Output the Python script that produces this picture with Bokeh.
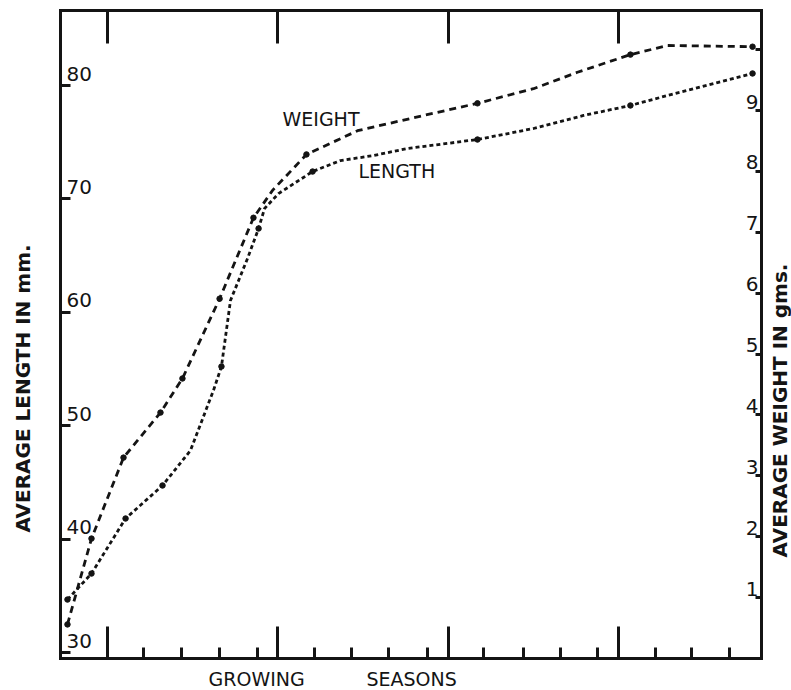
import math
from bokeh.plotting import figure
from bokeh.models import LinearAxis, Range1d, FixedTicker, Label
from bokeh.core.properties import value
from bokeh.embed import file_html
from bokeh.resources import INLINE

# ---------------- data ----------------
season_ticks = [1, 2, 3, 4]
season_minor_ticks = [1.21, 1.435, 1.658, 1.881,
                      2.216, 2.433, 2.65, 2.879,
                      3.208, 3.443, 3.66, 3.877,
                      4.218, 4.429, 4.652]

length_ticks = [30, 40, 50, 60, 70, 80]
length_tick_labels = ["30", "40", "50", "60", "70", "80"]
weight_ticks = [1, 2, 3, 4, 5, 6, 7, 8, 9, 10]
weight_tick_labels = ["1", "2", "3", "4", "5", "6", "7", "8", "9"]

# average weight (gms) over growing seasons
weight_x = [0.765, 0.906, 1.094, 1.311, 1.440, 1.658, 1.857, 1.969, 2.168, 2.468,
            2.855, 3.172, 3.501, 3.759, 4.070, 4.288, 4.787]
weight_gms = [0.56, 1.97, 3.30, 4.04, 4.60, 5.91, 7.24, 7.69, 8.28, 8.67,
              8.92, 9.12, 9.36, 9.63, 9.92, 10.07, 10.05]
weight_sampled = [1, 1, 1, 1, 1, 1, 1, 0, 1, 0, 0, 1, 0, 0, 1, 0, 1]

# average length (mm) over growing seasons
length_x = [0.765, 0.906, 1.106, 1.323, 1.487, 1.622, 1.669, 1.722, 1.822, 1.887,
            1.922, 2.004, 2.204, 2.368, 2.562, 2.761, 3.172, 3.501, 3.795, 4.070,
            4.288, 4.581, 4.787]
length_mm = [34.71, 37.00, 41.85, 44.76, 47.84, 53.13, 55.24, 61.06, 64.76, 67.40,
             69.16, 70.48, 72.42, 73.39, 73.83, 74.45, 75.24, 76.21, 77.36, 78.24,
             79.12, 80.26, 81.06]
length_sampled = [1, 1, 1, 1, 0, 0, 1, 0, 0, 1, 0, 0, 1, 0, 0, 0, 1, 0, 0, 1, 0, 0, 1]

# axis extents of the drawn box (data units)
season_lo, season_hi = 0.724, 4.840
length_lo, length_hi = 29.515, 86.608
weight_lo, weight_hi = 0.0, 10.645

INK = "#141414"
W, H = 791, 690

# the plotting frame fills the whole canvas; the box is drawn by fixed axes
p = figure(width=W, height=H,
           x_range=Range1d(0.3718, 5.0157), y_range=Range1d(26.696, 87.489),
           x_axis_type=None, y_axis_type=None,
           output_backend="svg", toolbar_location=None,
           min_border_left=0, min_border_right=0,
           min_border_top=0, min_border_bottom=0)
p.extra_y_ranges = {"w": Range1d(-0.5257, 10.809)}
p.grid.visible = False
p.outline_line_color = None
p.background_fill_color = "white"
p.border_fill_color = "white"


def style_axis(ax, tick_in, minor_in=0):
    ax.axis_line_width = 3
    ax.axis_line_color = INK
    ax.axis_line_cap = "square"
    ax.major_tick_in = tick_in
    ax.major_tick_out = 0
    ax.major_tick_line_width = 3
    ax.major_tick_line_color = INK
    ax.minor_tick_in = minor_in
    ax.minor_tick_out = 0
    ax.minor_tick_line_width = 3
    ax.minor_tick_line_color = INK
    ax.major_label_text_color = None
    ax.axis_label = None


bottom = LinearAxis(ticker=FixedTicker(ticks=season_ticks, minor_ticks=season_minor_ticks),
                    fixed_location=length_lo, bounds=(season_lo, season_hi))
style_axis(bottom, 32, 11)
p.add_layout(bottom, "below")

top = LinearAxis(ticker=FixedTicker(ticks=season_ticks),
                 fixed_location=length_hi, bounds=(season_lo, season_hi))
style_axis(top, 33)
p.add_layout(top, "above")

left = LinearAxis(ticker=FixedTicker(ticks=length_ticks),
                  fixed_location=season_lo, bounds=(length_lo, length_hi))
style_axis(left, 10)
p.add_layout(left, "left")

right = LinearAxis(y_range_name="w", ticker=FixedTicker(ticks=weight_ticks),
                   fixed_location=season_hi, bounds=(weight_lo, weight_hi))
style_axis(right, 6)
p.add_layout(right, "right")

# tick labels drawn inside the box, just above their ticks
p.text(x=[season_lo] * len(length_ticks), y=length_ticks, text=length_tick_labels,
       x_offset=6, y_offset=-12, text_align="left", text_baseline="middle",
       text_font=value("DejaVu Sans"), text_font_size="20px", text_color=INK)
p.text(x=[season_hi] * len(weight_tick_labels), y=weight_ticks[:len(weight_tick_labels)],
       text=weight_tick_labels, y_range_name="w",
       x_offset=-3, y_offset=-9, text_align="right", text_baseline="middle",
       text_font=value("DejaVu Sans"), text_font_size="20px", text_color=INK)

# curves
p.line(weight_x, weight_gms, y_range_name="w", line_color=INK, line_width=2.8,
       line_dash="7 5")
wx = [x for x, s in zip(weight_x, weight_sampled) if s]
wy = [y for y, s in zip(weight_gms, weight_sampled) if s]
p.scatter(wx, wy, y_range_name="w", size=5.5, color=INK)

p.line(length_x, length_mm, line_color=INK, line_width=2.8, line_dash="4 3")
lx = [x for x, s in zip(length_x, length_sampled) if s]
ly = [y for y, s in zip(length_mm, length_sampled) if s]
p.scatter(lx, ly, size=5.5, color=INK)


def canvas_label(text, cx, cy, size, align="left", angle=0.0, bold=False):
    lab = Label(x=cx, y=H - cy, x_units="screen", y_units="screen",
                text=text, text_align=align, text_baseline="middle", angle=angle,
                text_font="DejaVu Sans", text_font_size=size,
                text_font_style="bold" if bold else "normal", text_color=INK)
    p.add_layout(lab)


canvas_label("WEIGHT", 282, 118, "19px")
canvas_label("LENGTH", 358, 170, "19px")
canvas_label("GROWING", 208, 678, "19px")
canvas_label("SEASONS", 366, 678, "19px")
canvas_label("AVERAGE LENGTH IN mm.", 22, 388, "20px", align="center",
             angle=math.pi / 2, bold=True)
canvas_label("AVERAGE WEIGHT IN gms.", 779, 410, "20px", align="center",
             angle=math.pi / 2, bold=True)

open("out.html", "w").write(file_html(p, INLINE))
